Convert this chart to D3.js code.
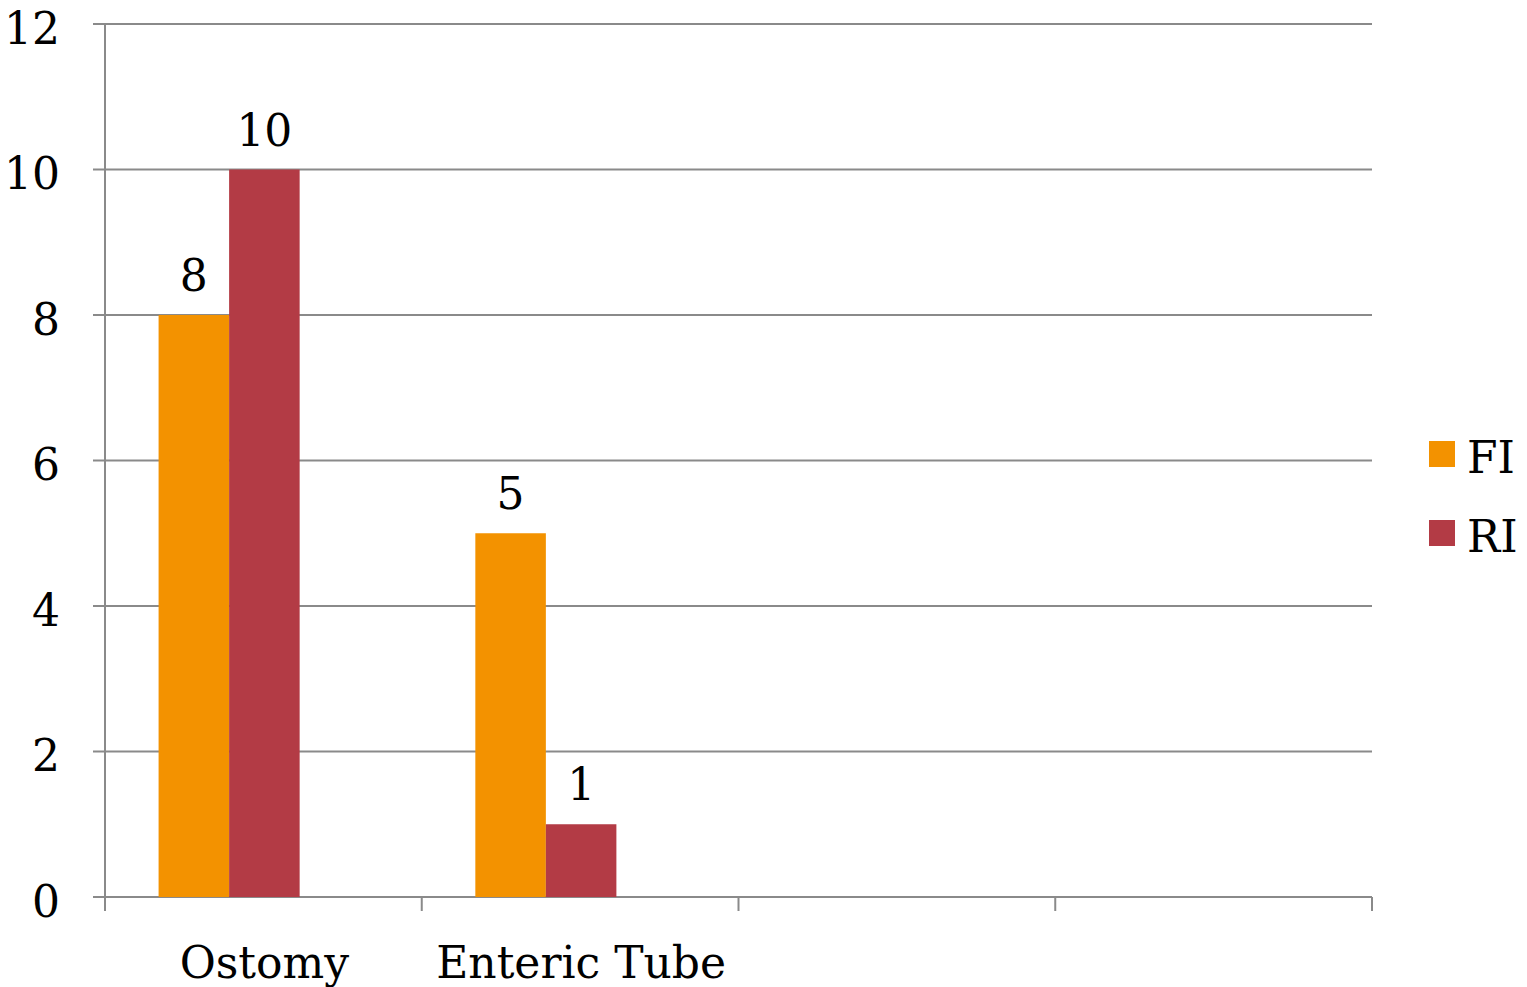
<!DOCTYPE html>
<html>
<head>
<meta charset="utf-8">
<script src="https://cdn.jsdelivr.net/npm/d3@7/dist/d3.min.js"></script>
<style>
  html, body { margin: 0; padding: 0; background: #fff; }
  svg { display: block; }
  text { font-family: "DejaVu Serif", "Liberation Serif", serif; fill: #000; }
</style>
</head>
<body>
<svg id="chart" width="1527" height="987"></svg>
<script>
// Chart data
const categories = ["Ostomy", "Enteric Tube", "", ""];
const seriesNames = ["FI", "RI"];
const fiValues = [8, 5, null, null];
const riValues = [10, 1, null, null];
const seriesSlots = ["FI", "RI", "Series3"]; // third slot is empty
const yTicks = [0, 2, 4, 6, 8, 10, 12];
const colors = { FI: "#F39200", RI: "#B33B45" };

const svg = d3.select("#chart");
const margin = { left: 105, right: 1372, top: 24, bottom: 897 };

const x = d3.scaleBand()
  .domain(d3.range(categories.length))
  .range([margin.left + 1, margin.right + 1])
  .paddingInner(0.332)
  .paddingOuter(0.166);

const xSlot = d3.scaleBand()
  .domain(seriesSlots)
  .range([0, x.bandwidth()]);

const y = d3.scaleLinear().domain([0, 12]).range([margin.bottom, margin.top]);

const gridColor = "#8a8a8a";

// Horizontal gridlines
svg.append("g")
  .selectAll("line")
  .data(yTicks)
  .join("line")
  .attr("x1", margin.left - 12)
  .attr("x2", margin.right)
  .attr("y1", d => y(d))
  .attr("y2", d => y(d))
  .attr("stroke", gridColor)
  .attr("stroke-width", 2);

// Y axis line
svg.append("line")
  .attr("x1", margin.left).attr("x2", margin.left)
  .attr("y1", margin.top).attr("y2", margin.bottom + 14)
  .attr("stroke", gridColor).attr("stroke-width", 2);

// X axis category dividers
const dividers = d3.range(categories.length + 1).map(i =>
  margin.left + i * (margin.right - margin.left) / categories.length);
svg.append("g")
  .selectAll("line")
  .data(dividers.slice(1))
  .join("line")
  .attr("x1", d => d).attr("x2", d => d)
  .attr("y1", margin.bottom).attr("y2", margin.bottom + 14)
  .attr("stroke", gridColor).attr("stroke-width", 2);

// Y tick labels
svg.append("g")
  .selectAll("text")
  .data(yTicks)
  .join("text")
  .attr("x", 60)
  .attr("y", d => y(d))
  .attr("dy", "0.45em")
  .attr("text-anchor", "end")
  .attr("font-size", 44)
  .text(d => d);

// Bars
const seriesData = { FI: fiValues, RI: riValues };
seriesNames.forEach(name => {
  const vals = seriesData[name];
  const pts = vals.map((v, i) => ({ i, v })).filter(d => d.v != null);
  svg.append("g")
    .selectAll("rect")
    .data(pts)
    .join("rect")
    .attr("x", d => x(d.i) + xSlot(name))
    .attr("width", xSlot.bandwidth())
    .attr("y", d => y(d.v))
    .attr("height", d => y(0) - y(d.v))
    .attr("fill", colors[name]);

  svg.append("g")
    .selectAll("text")
    .data(pts)
    .join("text")
    .attr("x", d => x(d.i) + xSlot(name) + xSlot.bandwidth() / 2)
    .attr("y", d => y(d.v) - 24)
    .attr("text-anchor", "middle")
    .attr("font-size", 44)
    .text(d => d.v);
});

// Category labels
svg.append("g")
  .selectAll("text")
  .data(categories.map((c, i) => ({ c, i })).filter(d => d.c))
  .join("text")
  .attr("x", d => x(d.i) + x.bandwidth() / 2)
  .attr("y", 978)
  .attr("text-anchor", "middle")
  .attr("font-size", 44)
  .text(d => d.c);

// Legend
const legend = svg.append("g");
seriesNames.forEach((name, k) => {
  const top = 441 + k * 79;
  legend.append("rect")
    .attr("x", 1429).attr("y", top)
    .attr("width", 26).attr("height", 26)
    .attr("fill", colors[name]);
  legend.append("text")
    .attr("x", 1467).attr("y", top + 32)
    .attr("font-size", 44)
    .text(name);
});
</script>
</body>
</html>
